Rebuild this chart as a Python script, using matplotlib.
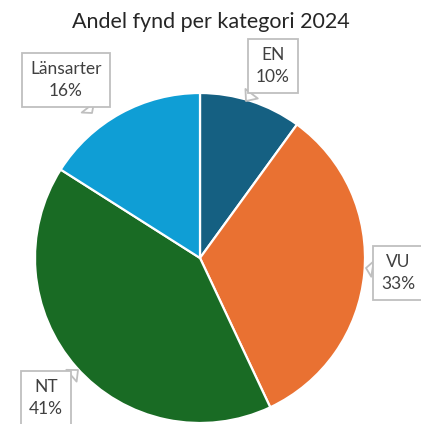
import matplotlib
matplotlib.use("Agg")
import matplotlib.pyplot as plt

categories = ["EN", "VU", "NT", "Länsarter"]
values = [10, 33, 41, 16]
colors = ["#156082", "#E97132", "#196B24", "#0F9ED5"]
title = "Andel fynd per kategori 2024"

plt.rcParams['font.family'] = ['Lato', 'DejaVu Sans']

fig = plt.figure(figsize=(4.21, 4.24), dpi=100)
cx, cy, r = 200, 258, 165
W, H = 421, 424
ax = fig.add_axes([(cx - r) / W, (H - (cy + r)) / H, 2 * r / W, 2 * r / H])
wedges, _ = ax.pie(values, colors=colors, startangle=90, counterclock=False,
                   wedgeprops=dict(edgecolor="white", linewidth=1.6))
ax.set_xlim(-1, 1)
ax.set_ylim(-1, 1)
ax.set_aspect('auto')
ax.axis('off')

fig.text(0.5, 1 - 22 / H, title, ha='center', va='center', fontsize=15.5, color='#262626')

# label boxes (pixel centers) and pointer tips (pixel)
label_pos = [(273, 66), (398, 273), (46, 398), (66, 80)]
tips = [(246, 101), (366, 268), (78, 370), (92, 113)]
total = sum(values)
for cat, v, (tx, ty), (px, py) in zip(categories, values, label_pos, tips):
    txt = f"{cat}\n{round(100 * v / total)}%"
    ax.annotate(txt, xy=((px - cx) / r, (cy - py) / r), xycoords='data',
                xytext=(tx / W, 1 - ty / H), textcoords='figure fraction',
                ha='center', va='center', fontsize=12.5, color='#404040',
                linespacing=1.5, annotation_clip=False,
                bbox=dict(boxstyle='square,pad=0.45', fc='white', ec='#BFBFBF', lw=1.3),
                arrowprops=dict(arrowstyle='wedge,tail_width=0.9,shrink_factor=0.5',
                                fc='white', ec='#BFBFBF', lw=1.3, shrinkA=0, shrinkB=0))

fig.savefig("out.png", dpi=100)
